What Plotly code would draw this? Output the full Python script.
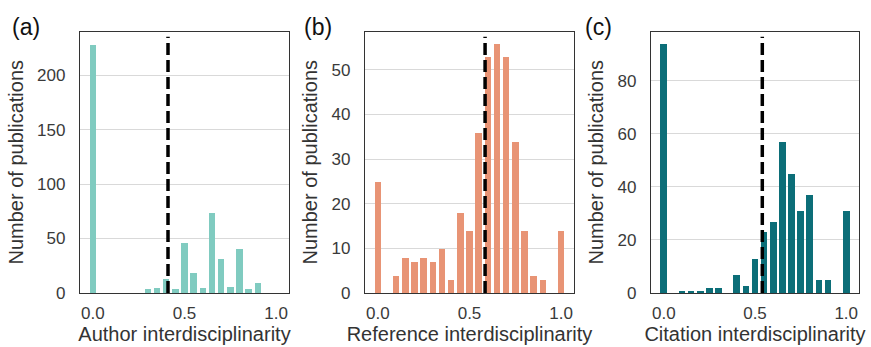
import plotly.graph_objects as go

# ---- data ----
bins_a = [0.0, 0.30, 0.35, 0.40, 0.45, 0.50, 0.55, 0.60, 0.65, 0.70, 0.75, 0.80, 0.85, 0.90]
counts_a = [228, 4, 5, 13, 4, 46, 19, 5, 74, 32, 6, 41, 4, 10]
median_a = 0.41

bins_b = [0.0, 0.10, 0.15, 0.20, 0.25, 0.30, 0.35, 0.40, 0.45, 0.50, 0.55, 0.60,
          0.65, 0.70, 0.75, 0.80, 0.85, 0.90, 1.0]
counts_b = [25, 4, 8, 7, 8, 7, 10, 3, 18, 14, 36, 53, 56, 53, 34, 14, 4, 3, 14]
median_b = 0.585

bins_c = [0.0, 0.10, 0.15, 0.20, 0.25, 0.30, 0.40, 0.45, 0.50, 0.55, 0.60, 0.65,
          0.70, 0.75, 0.80, 0.85, 0.90, 1.0]
counts_c = [94, 1, 1, 1, 2, 2, 7, 3, 13, 23, 27, 57, 45, 31, 37, 5, 5, 31]
median_c = 0.54

x_titles = ["Author interdisciplinarity", "Reference interdisciplinarity", "Citation interdisciplinarity"]
panel_labels = ["(a)", "(b)", "(c)"]
y_tick_vals = [[0, 50, 100, 150, 200], [0, 10, 20, 30, 40, 50], [0, 20, 40, 60, 80]]
y_ranges = [[0, 240], [0, 58.6], [0, 98.5]]
x_tick_vals = [0.0, 0.5, 1.0]
x_tick_text = ["0.0", "0.5", "1.0"]

colors = ["#80cbc0", "#e89475", "#0c6e78"]

W, H = 871, 347
x_domains = [[80 / W, 289 / W], [365 / W, 574 / W], [651 / W, 859 / W]]
label_x_px = [26, 318, 598]
y_domain = [1 - 293 / H, 1 - 31.5 / H]

FONT = "Liberation Sans, Arial, sans-serif"
fig = go.Figure()

data = [(bins_a, counts_a, median_a), (bins_b, counts_b, median_b), (bins_c, counts_c, median_c)]
for i, (bx, cy, med) in enumerate(data):
    suffix = "" if i == 0 else str(i + 1)
    xa = "x" + suffix
    ya = "y" + suffix
    fig.add_trace(go.Bar(x=bx, y=cy, width=0.036, marker=dict(color=colors[i], line=dict(width=0)),
                         xaxis=xa, yaxis=ya, showlegend=False))
    fig.update_layout(**{
        "xaxis" + suffix: dict(domain=x_domains[i], anchor=ya, range=[-0.07, 1.07], automargin=False,
                               tickvals=x_tick_vals, ticktext=x_tick_text, showgrid=False,
                               showline=True, mirror=True, linecolor="#333333", linewidth=1.3,
                               ticks="", zeroline=False, ticklabelstandoff=4,
                               tickfont=dict(size=17, color="#3a3a3a", family=FONT),
                               title=dict(text=x_titles[i], font=dict(size=20, color="#333333", family=FONT),
                                          standoff=4)),
        "yaxis" + suffix: dict(domain=y_domain, anchor=xa, range=y_ranges[i], automargin=False,
                               tickvals=y_tick_vals[i], showgrid=True, gridcolor="#d9d9d9", gridwidth=1.2,
                               showline=True, mirror=True, linecolor="#333333", linewidth=1.3,
                               ticks="", zeroline=False, ticklabelstandoff=10,
                               tickfont=dict(size=17, color="#3a3a3a", family=FONT),
                               title=dict(text="Number of publications",
                                          font=dict(size=20, color="#333333", family=FONT),
                                          standoff=8)),
    })
    fig.add_shape(type="line", xref=xa, yref=ya + " domain", x0=med, x1=med, y0=0, y1=0.98,
                  line=dict(color="black", width=3.5, dash="12px,5px"))
    fig.add_annotation(text=panel_labels[i], xref="paper", yref="paper",
                       x=label_x_px[i] / W, y=1 - 27 / H,
                       xanchor="center", yanchor="middle", showarrow=False,
                       font=dict(size=23, color="#111111", family=FONT))

fig.update_layout(width=W, height=H, autosize=False, margin=dict(l=0, r=0, t=0, b=0),
                  plot_bgcolor="white", paper_bgcolor="white", bargap=0)
fig.write_html("out.html", config={"displayModeBar": False, "responsive": False},
               post_script="document.body.style.margin='0';document.body.style.overflow='hidden';")
